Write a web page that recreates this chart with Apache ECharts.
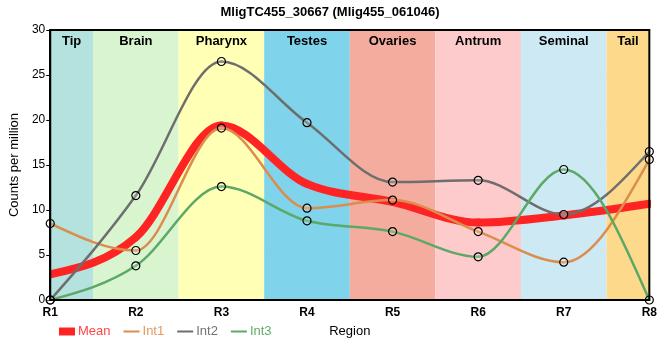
<!DOCTYPE html>
<html><head><meta charset="utf-8">
<script src="https://cdn.jsdelivr.net/npm/echarts@6/dist/echarts.min.js"></script>
<style>html,body{margin:0;padding:0;background:#fff}#c{width:660px;height:360px}</style>
</head><body><div id="c"></div>
<script>
const categories = ['R1','R2','R3','R4','R5','R6','R7','R8'];
const meanVals = [2.85, 6.97, 19.4, 12.9, 10.9, 8.6, 9.4, 10.7];
const int1Vals = [8.5, 5.5, 19.1, 10.2, 11.1, 7.6, 4.2, 15.6];
const int2Vals = [0, 11.6, 26.5, 19.7, 13.1, 13.3, 9.5, 16.5];
const int3Vals = [0, 3.8, 12.6, 8.8, 7.6, 4.8, 14.5, 0];
const regionNames = ['Tip','Brain','Pharynx','Testes','Ovaries','Antrum','Seminal','Tail'];
const regionColors = ['#b4e3df','#d9f5d0','#ffffb5','#7fd3ea','#f4ac9f','#fdcbcb','#cdeaf4','#fdd98b'];
const yTicks = [0,5,10,15,20,25,30];

const FONT = 'Liberation Sans, Arial, sans-serif';
const n = categories.length;

const bands = regionNames.map((nm,i)=>[
  {name:nm, xAxis: Math.max(0,i-0.5), itemStyle:{color:regionColors[i]}},
  {xAxis: Math.min(n-1,i+0.5)}
]);

// monotone-x cubic tangents (pixel space), as d3.curveMonotoneX
function tangents(p){
  const m = p.length, t = new Array(m).fill(0);
  for (let i=1;i<m-1;i++){
    const h0=p[i][0]-p[i-1][0], h1=p[i+1][0]-p[i][0];
    const s0=(p[i][1]-p[i-1][1])/h0, s1=(p[i+1][1]-p[i][1])/h1;
    const pp=(s0*h1+s1*h0)/(h0+h1);
    t[i]=(Math.sign(s0)+Math.sign(s1))*Math.min(Math.abs(s0),Math.abs(s1),0.5*Math.abs(pp))||0;
  }
  const hA=p[1][0]-p[0][0]; t[0]=(3*(p[1][1]-p[0][1])/hA - t[1])/2;
  const hB=p[m-1][0]-p[m-2][0]; t[m-1]=(3*(p[m-1][1]-p[m-2][1])/hB - t[m-2])/2;
  return t;
}

function curveSeries(name, vals, color, width){
  return {
    name, type:'custom', z:3, clip:true, silent:true, xAxisIndex:0,
    itemStyle:{color},
    encode:{x:0,y:1},
    data: vals.map((v,i)=>[i,v]),
    renderItem:function(params, api){
      const i = params.dataIndex;
      if (i >= vals.length-1) return null;
      const pts = vals.map((v,j)=>api.coord([j,v]));
      const t = tangents(pts);
      const a=pts[i], b=pts[i+1], dx=(b[0]-a[0])/3;
      return {type:'bezierCurve', shape:{x1:a[0],y1:a[1],x2:b[0],y2:b[1],
        cpx1:a[0]+dx, cpy1:a[1]+dx*t[i], cpx2:b[0]-dx, cpy2:b[1]-dx*t[i+1]},
        style:{stroke:color, lineWidth:width, fill:null, lineCap:'round'}};
    }
  };
}
function pointSeries(name, vals){
  return {name, type:'scatter', data:vals, z:6, silent:true, symbolSize:8, xAxisIndex:0,
    itemStyle:{color:'rgba(255,255,255,0.2)', borderColor:'#000', borderWidth:1.2, opacity:1}};
}

const lineIcon = 'path://M0,0L0,8M0,2.8L20,2.8L20,5.2L0,5.2Z';
const chart = echarts.init(document.getElementById('c'));
chart.setOption({
  animation:false,
  title:{text:'MligTC455_30667 (Mlig455_061046)', left:'center', top:1,
    textStyle:{fontSize:13, fontWeight:'bold', color:'#000', fontFamily:FONT}},
  grid:{left:50, right:10, top:30, bottom:60, show:true, borderColor:'#000', borderWidth:2, z:10},
  legend:{left:54, top:320, itemGap:13, itemWidth:16, itemHeight:8,
    textStyle:{fontSize:13, fontFamily:FONT, padding:[0,0,0,-2]},
    data:[
      {name:'Mean', icon:'rect', textStyle:{color:'#ff4747'}},
      {name:'Int1', icon:lineIcon, textStyle:{color:'#e0995e'}},
      {name:'Int2', icon:lineIcon, textStyle:{color:'#737373'}},
      {name:'Int3', icon:lineIcon, textStyle:{color:'#62ad6e'}}
    ]},
  xAxis:[{
    type:'category', data:categories, boundaryGap:false,
    name:'Region', nameLocation:'middle', nameGap:25,
    nameTextStyle:{fontSize:13, color:'#000', fontFamily:FONT},
    axisLine:{lineStyle:{color:'#000', width:2}},
    axisTick:{show:false},
    axisLabel:{fontSize:12, fontWeight:'bold', color:'#000', margin:7, fontFamily:FONT},
    splitLine:{show:true, lineStyle:{color:'#c8c8c8', width:1}}
  },{
    type:'value', min:0, max:n-1, show:false, splitLine:{show:false}
  }],
  yAxis:{
    type:'value', min:yTicks[0], max:yTicks[yTicks.length-1], interval:5,
    name:'Counts per million', nameLocation:'middle', nameGap:28,
    nameTextStyle:{fontSize:13, color:'#000', fontFamily:FONT},
    axisLine:{show:true, lineStyle:{color:'#000', width:2}},
    axisTick:{show:true, length:4, lineStyle:{color:'#000'}},
    axisLabel:{fontSize:12, color:'#000', margin:5, fontFamily:FONT},
    splitLine:{show:true, lineStyle:{color:'#c8c8c8', width:1}}
  },
  series:[
    {name:'bands', type:'line', xAxisIndex:1, data:[], silent:true, z:-1,
     markArea:{silent:true, label:{show:true, position:'insideTop', distance:5,
        fontSize:13, fontWeight:'bold', color:'#000', fontFamily:FONT},
        data:bands}},
    curveSeries('Mean', meanVals, '#ff2424', 8),
    curveSeries('Int1', int1Vals, '#dc8d4e', 2.5),
    curveSeries('Int2', int2Vals, '#6e6e6e', 2.5),
    curveSeries('Int3', int3Vals, '#5ca866', 2.5),
    pointSeries('p1', int1Vals),
    pointSeries('p2', int2Vals),
    pointSeries('p3', int3Vals)
  ]
});
</script></body></html>
